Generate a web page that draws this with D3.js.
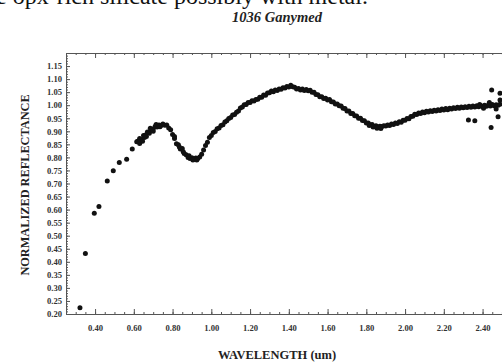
<!DOCTYPE html>
<html>
<head>
<meta charset="utf-8">
<script src="https://cdn.jsdelivr.net/npm/d3@7"></script>
<style>
  html, body { margin: 0; padding: 0; background: #fff; }
  svg { display: block; }
  .axis text { font-family: "Liberation Serif", "DejaVu Serif", serif; font-weight: bold; font-size: 8.6px; fill: #333; }
  .axis path, .axis line { stroke: #555; stroke-width: 1; }
</style>
</head>
<body>
<svg id="chart" width="502" height="362"></svg>
<script>
// Isolated points at short wavelengths
const blueWl = [0.322, 0.350, 0.396, 0.420, 0.463, 0.494, 0.525, 0.563, 0.592, 0.615];
const blueRefl = [0.224, 0.432, 0.586, 0.612, 0.710, 0.749, 0.780, 0.793, 0.832, 0.860];

// Dense spectrum
const specWl = [
  0.62, 0.63, 0.64, 0.65, 0.66, 0.67, 0.68, 0.69, 0.70, 0.71, 0.72, 0.73, 0.74, 0.75, 0.76, 0.77, 0.78, 0.79,
  0.80, 0.81, 0.82, 0.83, 0.84, 0.85, 0.86, 0.87, 0.88, 0.89, 0.90, 0.91, 0.92, 0.93, 0.94, 0.95, 0.96, 0.97, 0.98, 0.99,
  1.00, 1.01, 1.02, 1.03, 1.04, 1.05, 1.06, 1.07, 1.08, 1.09, 1.10, 1.11, 1.12, 1.13, 1.14, 1.15, 1.16, 1.17, 1.18, 1.19,
  1.20, 1.21, 1.22, 1.23, 1.24, 1.25, 1.26, 1.27, 1.28, 1.29, 1.30, 1.31, 1.32, 1.33, 1.34, 1.35, 1.36, 1.37, 1.38, 1.39,
  1.40, 1.41, 1.42, 1.43, 1.44, 1.45, 1.46, 1.47, 1.48, 1.49, 1.50, 1.51, 1.52, 1.53, 1.54, 1.55, 1.56, 1.57, 1.58, 1.59,
  1.60, 1.61, 1.62, 1.63, 1.64, 1.65, 1.66, 1.67, 1.68, 1.69, 1.70, 1.71, 1.72, 1.73, 1.74, 1.75, 1.76, 1.77, 1.78, 1.79,
  1.80, 1.81, 1.82, 1.83, 1.84, 1.85, 1.86, 1.87, 1.88, 1.89, 1.90, 1.91, 1.92, 1.93, 1.94, 1.95, 1.96, 1.97, 1.98, 1.99,
  2.00, 2.01, 2.02, 2.03, 2.04, 2.05, 2.06, 2.07, 2.08, 2.09, 2.10, 2.11, 2.12, 2.13, 2.14, 2.15, 2.16, 2.17, 2.18, 2.19,
  2.20, 2.21, 2.22, 2.23, 2.24, 2.25, 2.26, 2.27, 2.28, 2.29, 2.30, 2.31, 2.32, 2.33, 2.34, 2.35, 2.36, 2.37, 2.38, 2.39,
  2.40, 2.41, 2.42, 2.43, 2.44, 2.45, 2.46, 2.47, 2.48, 2.49
];
const specRefl = [
  0.862, 0.872, 0.868, 0.884, 0.886, 0.897, 0.893, 0.906, 0.909, 0.918, 0.916, 0.924, 0.922, 0.928, 0.923, 0.924, 0.913, 0.906,
  0.888, 0.872, 0.852, 0.848, 0.832, 0.834, 0.815, 0.810, 0.800, 0.796, 0.799, 0.794, 0.798, 0.796, 0.802, 0.812, 0.828, 0.846, 0.858, 0.876,
  0.884, 0.895, 0.899, 0.910, 0.913, 0.922, 0.925, 0.936, 0.940, 0.949, 0.953, 0.962, 0.964, 0.973, 0.978, 0.989, 0.993, 1.002, 1.003, 1.010,
  1.010, 1.017, 1.016, 1.022, 1.023, 1.030, 1.030, 1.039, 1.038, 1.047, 1.048, 1.054, 1.052, 1.058, 1.056, 1.062, 1.061, 1.067, 1.066, 1.072,
  1.070, 1.076, 1.071, 1.069, 1.062, 1.064, 1.058, 1.062, 1.056, 1.060, 1.055, 1.057, 1.050, 1.050, 1.041, 1.040, 1.032, 1.032, 1.026, 1.027,
  1.020, 1.022, 1.013, 1.012, 1.005, 1.005, 0.998, 0.997, 0.988, 0.987, 0.978, 0.978, 0.968, 0.968, 0.960, 0.959, 0.950, 0.950, 0.941, 0.940,
  0.932, 0.932, 0.925, 0.926, 0.918, 0.921, 0.916, 0.919, 0.918, 0.921, 0.920, 0.924, 0.922, 0.928, 0.926, 0.932, 0.930, 0.937, 0.935, 0.942,
  0.942, 0.949, 0.948, 0.957, 0.958, 0.965, 0.964, 0.970, 0.968, 0.974, 0.971, 0.977, 0.974, 0.979, 0.976, 0.981, 0.978, 0.983, 0.980, 0.985,
  0.982, 0.987, 0.983, 0.988, 0.985, 0.990, 0.987, 0.992, 0.988, 0.993, 0.990, 0.994, 0.991, 0.996, 0.992, 0.997, 0.993, 0.998, 0.994, 0.999,
  0.995, 1.000, 0.996, 1.001, 0.997, 1.003, 0.998, 1.002, 1.000, 1.004
];

// Noisy extra points (overlap region and long-wavelength scatter)
const extraWl = [0.63, 0.645, 0.655, 0.665, 0.685, 0.70, 0.715, 0.735, 0.81, 0.835, 0.855, 0.885, 0.905, 0.925, 1.815, 1.835, 1.855, 1.875,
  2.327, 2.360, 2.444, 2.447, 2.480, 2.490, 2.490, 2.470, 2.435, 2.405, 2.385];
const extraRefl = [0.853, 0.862, 0.876, 0.880, 0.912, 0.900, 0.926, 0.917, 0.880, 0.840, 0.822, 0.806, 0.790, 0.790, 0.922, 0.916, 0.912, 0.911,
  0.943, 0.940, 0.915, 1.058, 0.956, 1.046, 1.020, 0.985, 1.010, 0.988, 1.003];

const xMajor = [0.40, 0.60, 0.80, 1.00, 1.20, 1.40, 1.60, 1.80, 2.00, 2.20, 2.40];
const yMajor = [0.20, 0.25, 0.30, 0.35, 0.40, 0.45, 0.50, 0.55, 0.60, 0.65, 0.70, 0.75, 0.80, 0.85, 0.90, 0.95, 1.00, 1.05, 1.10, 1.15];

const svg = d3.select('#chart');
const margin = { left: 66, top: 53 };
const plotBottom = 314;

const x = d3.scaleLinear().domain([0.25, 2.55]).range([margin.left, margin.left + 2.3 * 193.75]);
const y = d3.scaleLinear().domain([0.20, 1.20]).range([plotBottom, margin.top]);

const xMinor = d3.range(0.25, 2.56, 0.05).map(v => +v.toFixed(2));
const yMinor = d3.range(0.20, 1.201, 0.01).map(v => +v.toFixed(2));

// Bottom axis
svg.append('g').attr('class', 'axis')
  .attr('transform', `translate(0,${plotBottom})`)
  .call(d3.axisBottom(x).tickValues(xMinor).tickSizeInner(-2).tickSizeOuter(0).tickFormat(''));
svg.append('g').attr('class', 'axis')
  .attr('transform', `translate(0,${plotBottom})`)
  .call(d3.axisBottom(x).tickValues(xMajor).tickSizeInner(-5).tickSizeOuter(0).tickPadding(11).tickFormat(d3.format('.2f')));

// Top axis
svg.append('g').attr('class', 'axis')
  .attr('transform', `translate(0,${margin.top})`)
  .call(d3.axisTop(x).tickValues(xMinor).tickSizeInner(-2).tickSizeOuter(0).tickFormat(''));
svg.append('g').attr('class', 'axis')
  .attr('transform', `translate(0,${margin.top})`)
  .call(d3.axisTop(x).tickValues(xMajor).tickSizeInner(-5).tickSizeOuter(0).tickFormat(''));

// Left axis
svg.append('g').attr('class', 'axis')
  .attr('transform', `translate(${margin.left},0)`)
  .call(d3.axisLeft(y).tickValues(yMinor).tickSizeInner(-2).tickSizeOuter(0).tickFormat(''));
svg.append('g').attr('class', 'axis')
  .attr('transform', `translate(${margin.left},0)`)
  .call(d3.axisLeft(y).tickValues(yMajor).tickSizeInner(-4).tickSizeOuter(0).tickPadding(4).tickFormat(d3.format('.2f')));

// Points
const pts = [];
blueWl.forEach((w, i) => pts.push([w, blueRefl[i]]));
specWl.forEach((w, i) => pts.push([w, specRefl[i]]));
extraWl.forEach((w, i) => pts.push([w, extraRefl[i]]));

svg.append('g')
  .selectAll('circle')
  .data(pts)
  .join('circle')
  .attr('cx', d => x(d[0]))
  .attr('cy', d => y(d[1]))
  .attr('r', 2.5)
  .attr('fill', '#111');

// Texts
svg.append('text')
  .attr('x', -4).attr('y', 4)
  .attr('font-family', '"Liberation Serif", serif')
  .attr('font-size', 24)
  .attr('fill', '#111')
  .text('e opx-rich silicate possibly with metal.');

svg.append('text')
  .attr('x', 277).attr('y', 22)
  .attr('text-anchor', 'middle')
  .attr('font-family', '"Liberation Serif", serif')
  .attr('font-weight', 'bold').attr('font-style', 'italic')
  .attr('font-size', 14.5)
  .attr('fill', '#222')
  .text('1036 Ganymed');

svg.append('text')
  .attr('transform', 'translate(29,185) rotate(-90)')
  .attr('text-anchor', 'middle')
  .attr('font-family', '"Liberation Serif", serif')
  .attr('font-weight', 'bold')
  .attr('font-size', 12.3)
  .attr('fill', '#222')
  .text('NORMALIZED REFLECTANCE');

svg.append('text')
  .attr('x', 277).attr('y', 359)
  .attr('text-anchor', 'middle')
  .attr('font-family', '"Liberation Serif", serif')
  .attr('font-weight', 'bold')
  .attr('font-size', 12.5)
  .attr('fill', '#222')
  .text('WAVELENGTH (um)');
</script>
</body>
</html>
